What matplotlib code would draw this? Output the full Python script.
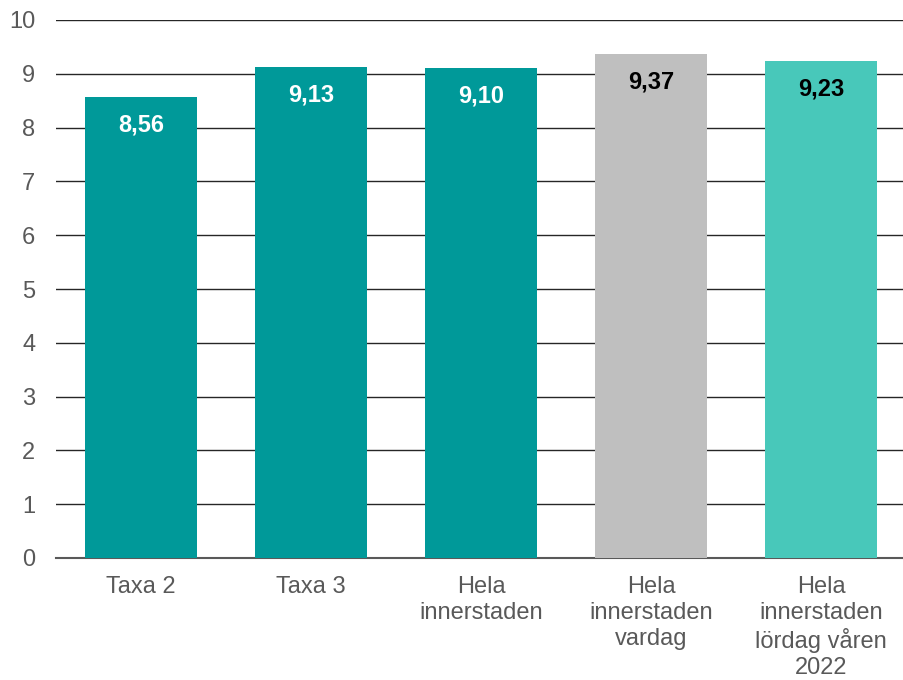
import matplotlib.pyplot as plt

plt.rcParams['font.family'] = ['Liberation Sans', 'DejaVu Sans']

# Data
categories = ["Taxa 2", "Taxa 3", "Hela\ninnerstaden", "Hela\ninnerstaden\nvardag",
              "Hela\ninnerstaden\nlördag våren\n2022"]
values = [8.56, 9.13, 9.10, 9.37, 9.23]
bar_colors = ["#009999", "#009999", "#009999", "#BFBFBF", "#48C8BA"]
label_colors = ["white", "white", "white", "black", "black"]

fig = plt.figure(figsize=(9.04, 6.8), dpi=100)
ax = fig.add_axes([56/904, 122/680, 850/904, 538/680])

x = range(len(categories))
bars = ax.bar(x, values, width=0.66, color=bar_colors, zorder=3)

for b, v, c in zip(bars, values, label_colors):
    ax.annotate(f"{v:.2f}".replace(".", ","),
                (b.get_x() + b.get_width()/2, v),
                xytext=(0, -20), textcoords="offset points",
                ha="center", va="center", fontsize=17, fontweight="bold",
                color=c, zorder=4)

ax.set_xlim(-0.5, 4.5)
ax.set_ylim(0, 10)
ax.set_yticks(range(0, 11))
ax.grid(axis="y", color="#262626", linewidth=1, zorder=0)
ax.axhline(0, color="#595959", linewidth=1.5, zorder=2, clip_on=False)
for s in ax.spines.values():
    s.set_visible(False)
ax.set_xticks(list(x))
ax.set_xticklabels(categories, fontsize=17, color="#595959", linespacing=1.22)
ax.tick_params(axis="x", length=0, pad=13)
ax.tick_params(axis="y", length=0, pad=15, labelsize=17, labelcolor="#595959")

fig.savefig("out.png", dpi=100)
